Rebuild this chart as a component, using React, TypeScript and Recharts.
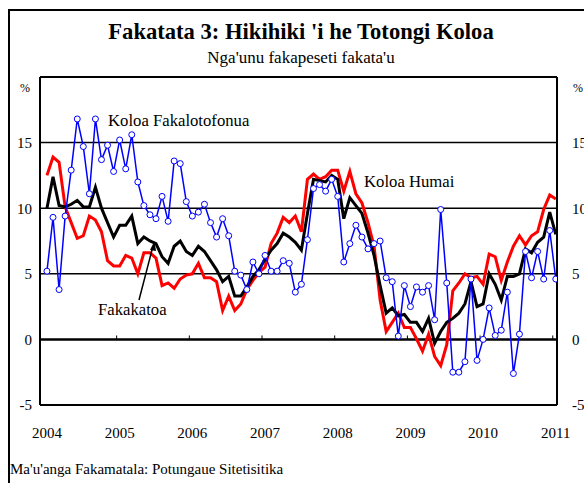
import { LineChart, Line, XAxis, YAxis, ReferenceLine } from 'recharts';

// monthly, Jan 2004 .. Jan 2011 (85 points)
const years = [2004, 2005, 2006, 2007, 2008, 2009, 2010, 2011];
const yTicks = [-5, 0, 5, 10, 15];

// Koloa Fakalotofonua (blue, circles)
const domestic = [
  5.2, 9.3, 3.8, 9.4, 12.9, 16.8, 14.7, 11.1, 16.8, 13.7, 14.8, 12.8,
  15.2, 13.0, 15.6, 12.0, 10.2, 9.5, 9.2, 10.9, 9.0, 13.6, 13.4, 10.5,
  9.4, 9.7, 10.3, 8.9, 7.8, 9.2, 7.9, 5.2, 4.9, 3.8, 5.9, 5.0,
  6.4, 5.2, 5.2, 6.0, 5.8, 3.6, 4.2, 7.6, 11.5, 11.8, 11.3, 12.2,
  10.9, 5.9, 7.3, 8.7, 7.8, 6.9, 7.3, 7.5, 4.7, 4.4, 0.25, 4.1,
  2.5, 4.0, 3.6, 4.1, 1.5, 9.9, 4.3, -2.5, -2.5, -1.7, 4.6, -1.6,
  0.0, 2.4, 0.3, 0.7, 3.6, -2.6, 0.4, 6.7, 4.7, 6.7, 4.6, 8.3,
  4.6,
];

// Koloa Humai (red)
const imported = [
  12.5, 13.9, 13.5, 10.1, 8.9, 7.7, 7.9, 9.4, 9.1, 8.2, 6.0, 5.6,
  5.6, 6.4, 6.2, 5.0, 6.6, 6.6, 6.2, 4.1, 4.3, 3.9, 4.6, 4.9,
  5.0, 5.8, 4.7, 4.7, 4.4, 2.2, 3.3, 2.2, 2.7, 3.8, 4.5, 5.1,
  5.5, 7.3, 8.1, 9.3, 8.9, 9.4, 8.2, 12.2, 12.6, 12.2, 12.4, 12.9,
  12.9, 11.3, 12.8, 11.1, 10.4, 8.9, 7.1, 3.0, 0.6, 1.3, 2.0, 0.9,
  0.9, 0.05, -0.9, 0.4, -1.3, -2.0, -0.4, 3.7, 4.3, 5.0, 4.7, 4.8,
  4.2, 6.5, 6.3, 4.5, 5.9, 7.1, 7.9, 7.2, 7.9, 8.2, 9.9, 11.0,
  10.7,
];

// Fakakatoa (black)
const total = [
  10.0, 12.4, 10.2, 10.1, 10.3, 10.6, 10.1, 10.1, 11.6, 10.0, 8.9, 7.8,
  8.7, 8.7, 9.4, 7.3, 7.8, 7.5, 7.3, 6.3, 5.8, 7.1, 7.5, 6.7,
  6.4, 7.1, 6.7, 6.0, 5.3, 4.4, 4.8, 3.3, 3.3, 4.0, 4.8, 5.3,
  6.1, 6.8, 7.3, 8.1, 7.8, 7.4, 6.8, 9.6, 12.2, 12.1, 12.0, 12.5,
  12.2, 9.2, 10.8, 10.2, 9.6, 8.1, 6.4, 4.1, 2.0, 2.4, 1.8, 1.9,
  1.3, 1.3, 0.6, 1.6, -0.3, 0.6, 1.3, 1.6, 2.0, 2.7, 4.4, 2.5,
  2.7, 5.0, 4.2, 3.0, 4.8, 4.8, 5.0, 6.9, 6.6, 7.4, 7.8, 9.7,
  8.0,
];

const data = domestic.map((d, i) => ({ i, domestic: d, imported: imported[i], total: total[i] }));
const yearTicks = years.map((_, k) => k * 12);
const yearBreaks = years.slice(1).map((_, k) => k * 12 + 11.5);

const serif = '"Liberation Serif", "Times New Roman", serif';
const tickStyle = { fontFamily: serif, fontSize: 15, fill: '#000' };

const text = (style: React.CSSProperties) => ({
  position: 'absolute' as const,
  fontFamily: serif,
  color: '#000',
  whiteSpace: 'nowrap' as const,
  lineHeight: 1,
  ...style,
});

export default function App() {
  return (
    <div style={{ position: 'absolute', left: 0, top: 0, width: 584, height: 483, overflow: 'hidden', background: '#fff' }}>
      <div style={{ position: 'absolute', left: 8, top: 9, width: 700, height: 600, borderLeft: '2px solid #000', borderTop: '2px solid #000' }} />
      <div style={text({ left: 0, width: 602, top: 21, textAlign: 'center', fontSize: 22.6, fontWeight: 'bold' })}>
        Fakatata 3: Hikihiki 'i he Totongi Koloa
      </div>
      <div style={text({ left: 0, width: 602, top: 49, textAlign: 'center', fontSize: 17 })}>Nga'unu fakapeseti fakata'u</div>
      <div style={text({ left: 20, top: 82, fontSize: 12 })}>%</div>
      <div style={text({ left: 573, top: 82, fontSize: 12 })}>%</div>

      <LineChart width={584} height={483} data={data} margin={{ top: 77, right: 0, bottom: 0, left: 0 }} style={{ position: 'absolute', left: 0, top: 0 }}>
        <XAxis
          dataKey="i"
          type="number"
          domain={[-1.15, 84.2]}
          ticks={yearTicks}
          tickFormatter={(v: number) => String(2004 + v / 12)}
          tick={tickStyle}
          tickLine={false}
          axisLine={false}
          tickSize={6}
          tickMargin={16}
          height={78}
          allowDataOverflow
        />
        <YAxis
          yAxisId="left"
          domain={[-5, 20]}
          ticks={yTicks}
          tick={tickStyle}
          tickLine={false}
          axisLine={{ stroke: '#000', strokeWidth: 2 }}
          tickSize={6}
          tickMargin={2}
          width={40}
          interval={0}
        />
        <YAxis
          yAxisId="right"
          orientation="right"
          domain={[-5, 20]}
          ticks={yTicks}
          tick={tickStyle}
          tickLine={false}
          axisLine={{ stroke: '#000', strokeWidth: 2 }}
          tickSize={6}
          tickMargin={9}
          width={27}
          interval={0}
        />
        {[15, 10, 5].map((v) => (
          <ReferenceLine key={v} yAxisId="right" y={v} stroke="#000" strokeWidth={1.5} />
        ))}
        <ReferenceLine yAxisId="right" y={20} stroke="#000" strokeWidth={2} />
        <ReferenceLine yAxisId="right" y={-5} stroke="#000" strokeWidth={2} />
        <ReferenceLine yAxisId="left" y={0} stroke="#000" strokeWidth={2.5} />
        {yearBreaks.map((x) => (
          <ReferenceLine
            key={x}
            yAxisId="left"
            segment={[{ x, y: 0 }, { x, y: 0.3 }]}
            stroke="#000"
            strokeWidth={1}
          />
        ))}
        <Line yAxisId="right" dataKey="imported" stroke="#ff0000" strokeWidth={3} dot={false} isAnimationActive={false} />
        <Line yAxisId="left" dataKey="total" stroke="#000" strokeWidth={3} dot={false} isAnimationActive={false} />
        <Line
          yAxisId="left"
          dataKey="domestic"
          stroke="#0000ff"
          strokeWidth={1.5}
          dot={{ r: 3, fill: '#fff', stroke: '#0000ff', strokeWidth: 1 }}
          isAnimationActive={false}
        />
      </LineChart>

      <div style={text({ left: 108, top: 113, fontSize: 16.7 })}>Koloa Fakalotofonua</div>
      <div style={text({ left: 364, top: 174, fontSize: 16.7 })}>Koloa Humai</div>
      <div style={text({ left: 98, top: 302, fontSize: 16.7 })}>Fakakatoa</div>
      <svg width={584} height={483} style={{ position: 'absolute', left: 0, top: 0, pointerEvents: 'none' }}>
        <line x1={139} y1={300} x2={152.5} y2={248} stroke="#000" strokeWidth={1.5} />
        <polygon points="154.5,241 150,250 156,251" fill="#000" />
      </svg>
      <div style={text({ left: 10, top: 462, fontSize: 15 })}>Ma'u'anga Fakamatala: Potungaue Sitetisitika</div>
    </div>
  );
}
